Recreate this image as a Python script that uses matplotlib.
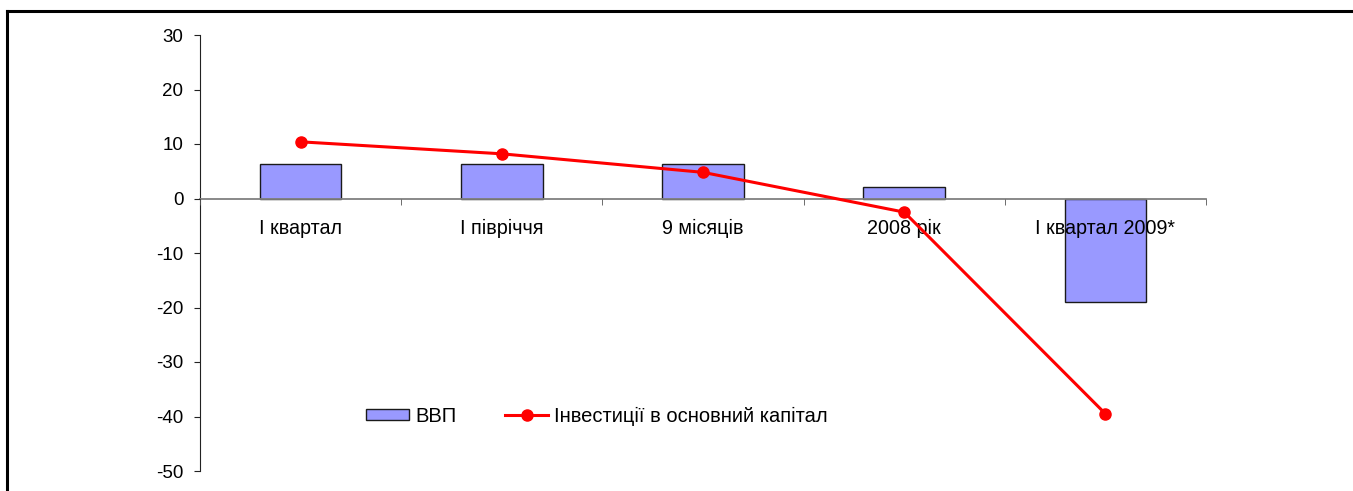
import numpy as np
import matplotlib.pyplot as plt
from matplotlib.lines import Line2D
from matplotlib.patches import Patch

plt.rcParams["font.family"] = ["Liberation Sans", "DejaVu Sans"]
plt.rcParams["axes.unicode_minus"] = False

categories = ["I квартал", "I півріччя", "9 місяців", "2008 рік", "I квартал 2009*"]
gdp = [6.3, 6.3, 6.3, 2.1, -19.0]
investment = [10.4, 8.2, 4.8, -2.5, -39.5]

BAR_COLOR = "#9999FF"
LINE_COLOR = "#FF0000"

fig = plt.figure(figsize=(13.53, 4.91), dpi=100)
ax = fig.add_axes([200 / 1353, 1 - 471 / 491, 1006 / 1353, 436 / 491])
ax.set_axisbelow(False)

x = np.arange(len(categories))
ax.bar(x, gdp, width=0.406, color=BAR_COLOR, edgecolor="#1a1a1a", linewidth=1.0, zorder=2)
ax.plot(x, investment, color=LINE_COLOR, linewidth=2.2, marker="o", markersize=8, zorder=3)

ax.set_xlim(-0.5, len(categories) - 0.5)
ax.set_ylim(-50, 30)
ax.set_yticks(np.arange(-50, 31, 10))

for side in ["top", "right"]:
    ax.spines[side].set_visible(False)
ax.spines["left"].set_color("#222222")
ax.spines["bottom"].set_position(("data", 0))
ax.spines["bottom"].set_color("#808080")
ax.spines["bottom"].set_linewidth(1.3)

ax.set_xticks(x)
ax.set_xticklabels(categories)
ax.set_xticks(np.arange(-0.5, len(categories)), minor=True)
ax.tick_params(axis="x", which="major", length=0, pad=15, labelsize=14.2)
ax.tick_params(axis="x", which="minor", length=4, direction="out", color="#555555")
ax.tick_params(axis="y", length=4, direction="out", pad=8, labelsize=13.5, color="#222222")

handles = [
    Patch(facecolor=BAR_COLOR, edgecolor="#1a1a1a", linewidth=1.0),
    Line2D([], [], color=LINE_COLOR, linewidth=2.2, marker="o", markersize=8),
]
fig.legend(handles, ["ВВП", "Інвестиції в основний капітал"], ncol=2, frameon=False,
           loc="center left", bbox_to_anchor=(366 / 1353, 1 - 416 / 491),
           borderpad=0, borderaxespad=0, fontsize=14.5, handlelength=2.15,
           handleheight=0.45, handletextpad=0.3, columnspacing=2.4)

# outer frame
fig.add_artist(Line2D([6.5 / 1353, 6.5 / 1353], [0, 1 - 11.3 / 491], color="black",
                      linewidth=2.2, transform=fig.transFigure))
fig.add_artist(Line2D([6.5 / 1353, 1], [1 - 11.3 / 491, 1 - 11.3 / 491], color="black",
                      linewidth=2.2, transform=fig.transFigure))

fig.savefig("out.png", dpi=100)
